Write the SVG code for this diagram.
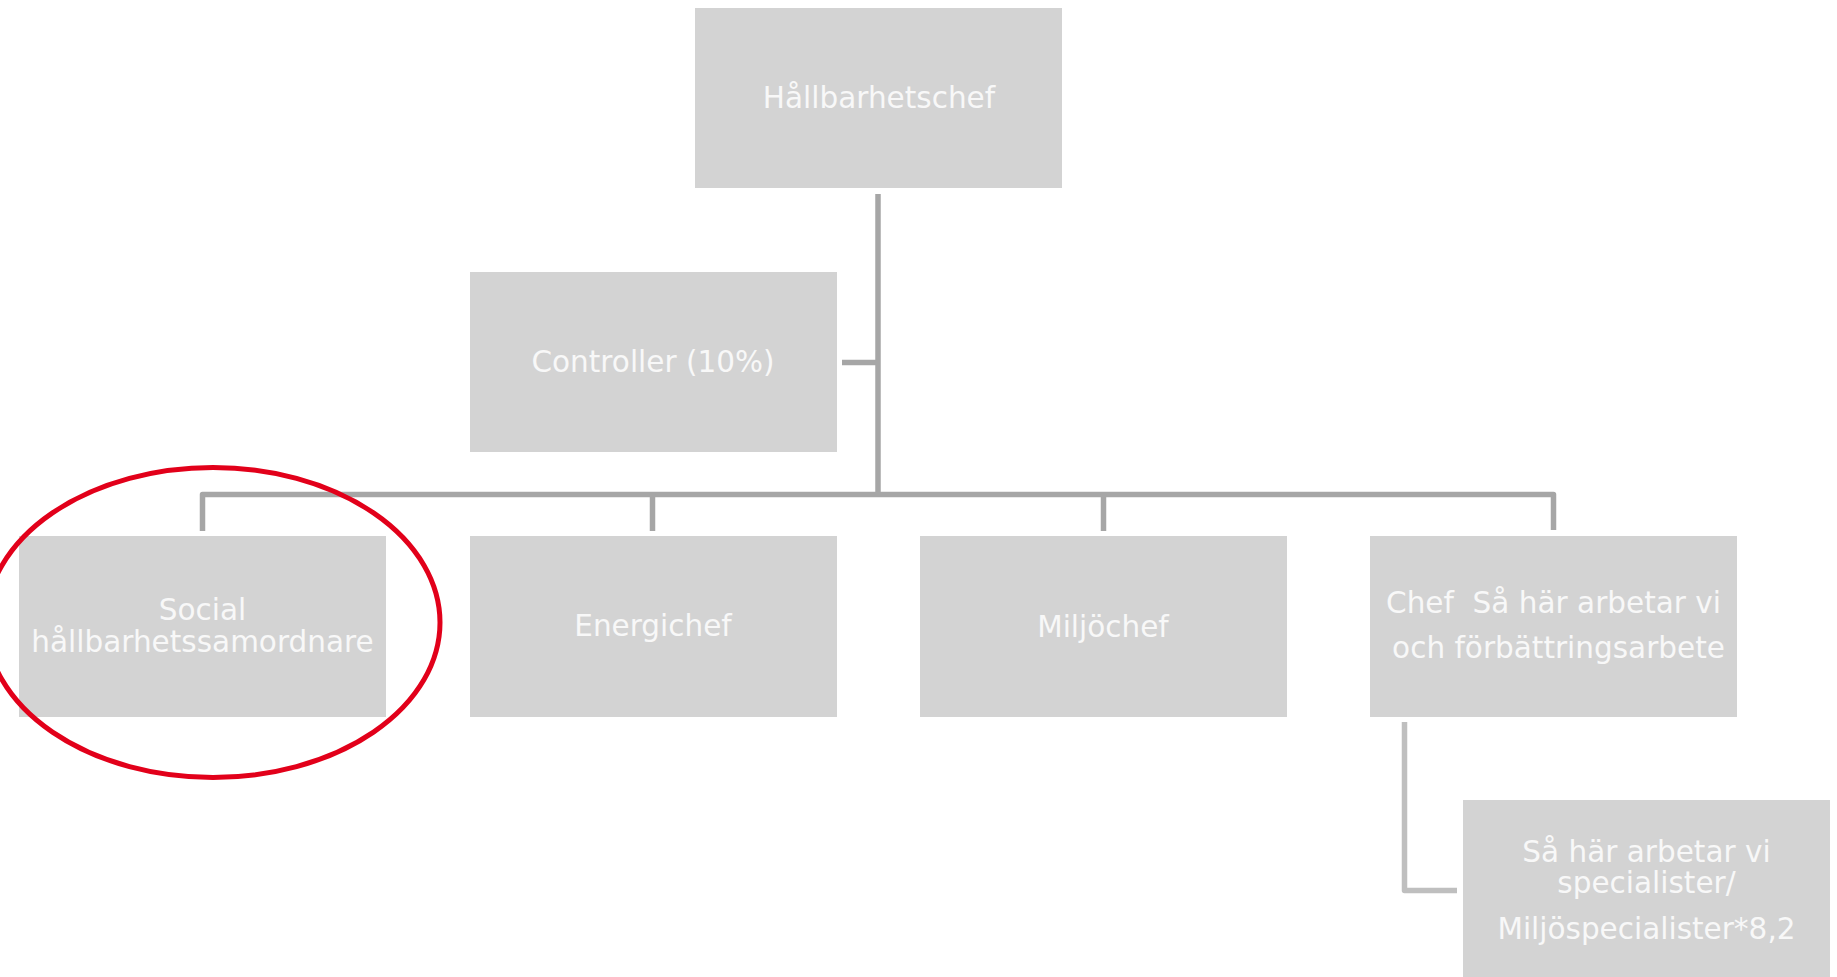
<svg xmlns="http://www.w3.org/2000/svg" width="1837" height="977" viewBox="0 0 1837 977">
<style>
.box{fill:#d3d3d3}
.t{fill:#f8f8f8;font-family:"DejaVu Sans","Verdana",sans-serif;font-size:29.5px;text-anchor:middle}
.c{fill:none;stroke:#a6a6a6;stroke-width:5.5;stroke-linejoin:round}
.c2{fill:none;stroke:#bfbfbf;stroke-width:5.5;stroke-linejoin:round}
</style>
<rect width="1837" height="977" fill="#ffffff"/>
<g id="connectors">
<path class="c" d="M878,194 V494.5"/>
<path class="c" d="M842,362.5 H878"/>
<path class="c" d="M202.5,531 V494.5 H1553.5 V530"/>
<path class="c" d="M652.5,494.5 V531"/>
<path class="c" d="M1103.5,494.5 V531"/>
<path class="c2" d="M1404.5,722 V890.5 H1457"/>
</g>
<g id="n-hallbarhetschef">
<rect class="box" x="695" y="8" width="367" height="180"/>
<text class="t" x="879" y="108">Hållbarhetschef</text>
</g>
<g id="n-controller">
<rect class="box" x="470" y="272" width="367" height="180"/>
<text class="t" x="653" y="372">Controller (10%)</text>
</g>
<g id="n-social">
<rect class="box" x="19" y="536" width="367" height="181"/>
<text class="t" x="202.5" y="620">Social</text>
<text class="t" x="202.5" y="652">hållbarhetssamordnare</text>
</g>
<g id="n-energichef">
<rect class="box" x="470" y="536" width="367" height="181"/>
<text class="t" x="653" y="636">Energichef</text>
</g>
<g id="n-miljochef">
<rect class="box" x="920" y="536" width="367" height="181"/>
<text class="t" x="1103" y="637">Miljöchef</text>
</g>
<g id="n-chef">
<rect class="box" x="1370" y="536" width="367" height="181"/>
<text class="t" x="1553.5" y="613" xml:space="preserve">Chef  Så här arbetar vi</text>
<text class="t" x="1558.5" y="658">och förbättringsarbete</text>
</g>
<g id="n-specialister">
<rect class="box" x="1463" y="800" width="367" height="180"/>
<text class="t" x="1646.5" y="862">Så här arbetar vi</text>
<text class="t" x="1646.5" y="893">specialister/</text>
<text class="t" x="1646.5" y="939">Miljöspecialister*8,2</text>
</g>
<g id="highlight">
<ellipse cx="213" cy="622.5" rx="227" ry="155" fill="none" stroke="#e2001a" stroke-width="5"/>
</g>
</svg>
